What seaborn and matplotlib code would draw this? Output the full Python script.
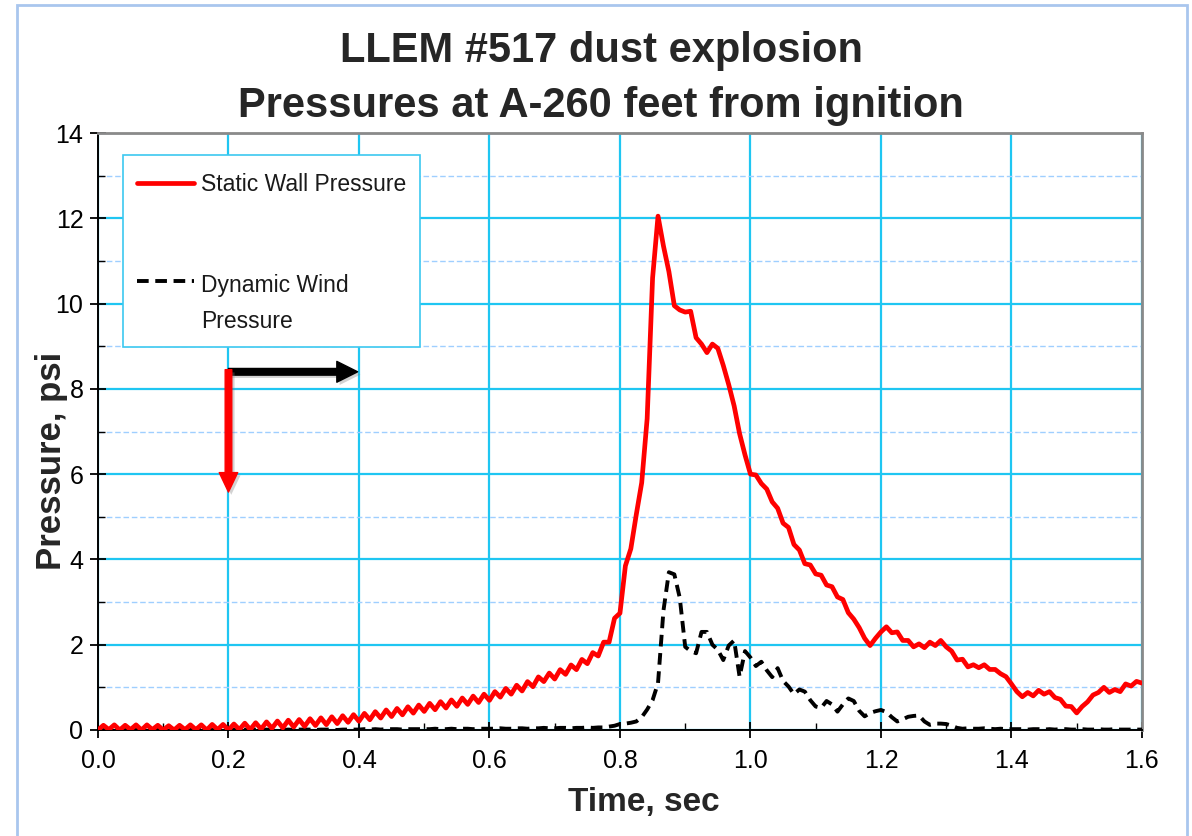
import numpy as np
import pandas as pd
import matplotlib
matplotlib.use("Agg")
import matplotlib.pyplot as plt
import matplotlib.patheffects as pe
import seaborn as sns
from matplotlib import font_manager
from matplotlib.patches import FancyArrowPatch, Rectangle
from matplotlib.legend_handler import HandlerLine2D
from matplotlib.ticker import MultipleLocator, FormatStrFormatter

# Gauge record, sampled 120 times per second from 0.0 s to 1.6 s
SAMPLES_PER_SEC = 120

static_psi = [
    0.00, 0.11, 0.01, 0.12, 0.00, 0.11, 0.01, 0.12, 0.00, 0.12, 0.01, 0.11,
    0.00, 0.10, 0.00, 0.11, 0.01, 0.12, 0.01, 0.12, 0.00, 0.13, 0.01, 0.13,
    0.00, 0.14, 0.01, 0.16, 0.01, 0.17, 0.02, 0.19, 0.04, 0.21, 0.05, 0.23,
    0.07, 0.245, 0.085, 0.265, 0.105, 0.285, 0.125, 0.31, 0.15, 0.335, 0.18, 0.36,
    0.205, 0.39, 0.24, 0.43, 0.28, 0.47, 0.315, 0.505, 0.355, 0.545, 0.395, 0.585,
    0.435, 0.625, 0.475, 0.665, 0.515, 0.705, 0.555, 0.75, 0.60, 0.795, 0.645, 0.84,
    0.695, 0.90, 0.77, 0.975, 0.84, 1.05, 0.915, 1.135, 1.015, 1.245, 1.135, 1.335,
    1.195, 1.415, 1.305, 1.525, 1.415, 1.655, 1.555, 1.815, 1.735, 2.06, 2.06, 2.62,
    2.74, 3.85, 4.25, 5.05, 5.80, 7.30, 10.60, 12.05, 11.35, 10.75, 9.95, 9.85,
    9.80, 9.82, 9.20, 9.05, 8.85, 9.05, 8.95, 8.55, 8.10, 7.60, 6.95, 6.45,
    6.00, 5.98, 5.78, 5.65, 5.35, 5.20, 4.85, 4.75, 4.35, 4.22, 3.90, 3.87,
    3.66, 3.63, 3.40, 3.36, 3.12, 3.06, 2.75, 2.60, 2.40, 2.15, 1.98, 2.15,
    2.30, 2.42, 2.28, 2.30, 2.10, 2.10, 1.95, 2.02, 1.93, 2.06, 1.98, 2.10,
    1.95, 1.85, 1.64, 1.66, 1.48, 1.53, 1.46, 1.53, 1.42, 1.42, 1.32, 1.25,
    1.08, 0.90, 0.78, 0.88, 0.80, 0.93, 0.84, 0.90, 0.76, 0.72, 0.56, 0.55,
    0.40, 0.55, 0.66, 0.82, 0.88, 1.00, 0.88, 0.95, 0.90, 1.08, 1.03, 1.14,
    1.10,
]

dynamic_psi = [
    0.00, 0.00, 0.00, 0.00, 0.00, 0.00, 0.00, 0.00, 0.00, 0.00, 0.00, 0.00,
    0.00, 0.00, 0.00, 0.00, 0.00, 0.00, 0.00, 0.00, 0.00, 0.00, 0.00, 0.00,
    0.00, 0.01, 0.00, 0.01, 0.00, 0.01, 0.00, 0.01, 0.00, 0.01, 0.00, 0.01,
    0.00, 0.01, 0.01, 0.01, 0.00, 0.01, 0.01, 0.01, 0.00, 0.01, 0.01, 0.01,
    0.01, 0.02, 0.01, 0.02, 0.01, 0.02, 0.02, 0.02, 0.01, 0.02, 0.02, 0.02,
    0.02, 0.02, 0.03, 0.02, 0.02, 0.03, 0.02, 0.03, 0.03, 0.02, 0.03, 0.03,
    0.03, 0.03, 0.04, 0.03, 0.03, 0.04, 0.04, 0.03, 0.04, 0.04, 0.05, 0.04,
    0.04, 0.05, 0.05, 0.04, 0.05, 0.05, 0.06, 0.05, 0.06, 0.06, 0.08, 0.10,
    0.14, 0.15, 0.17, 0.20, 0.30, 0.48, 0.70, 1.10, 2.80, 3.70, 3.65, 3.10,
    1.95, 1.85, 1.80, 2.30, 2.30, 2.00, 1.88, 1.64, 1.98, 2.10, 1.25, 1.85,
    1.70, 1.50, 1.60, 1.40, 1.24, 1.45, 1.15, 1.02, 0.84, 0.95, 0.90, 0.70,
    0.55, 0.52, 0.68, 0.60, 0.43, 0.60, 0.74, 0.68, 0.45, 0.32, 0.40, 0.44,
    0.47, 0.42, 0.30, 0.20, 0.25, 0.31, 0.33, 0.34, 0.20, 0.12, 0.15, 0.15,
    0.14, 0.10, 0.05, 0.03, 0.04, 0.03, 0.03, 0.04, 0.03, 0.02, 0.03, 0.02,
    0.02, 0.02, 0.02, 0.01, 0.02, 0.02, 0.01, 0.02, 0.01, 0.02, 0.02, 0.01,
    0.01, 0.02, 0.01, 0.01, 0.02, 0.01, 0.01, 0.02, 0.01, 0.01, 0.01, 0.01,
    0.01,
]

series_labels = ["Static Wall Pressure", "Dynamic Wind\nPressure"]
title_lines = ["LLEM #517 dust explosion", "Pressures at A-260 feet from ignition"]
x_label = "Time, sec"
y_label = "Pressure, psi"
x_ticks = [0.0, 0.2, 0.4, 0.6, 0.8, 1.0, 1.2, 1.4, 1.6]
y_ticks = [0, 2, 4, 6, 8, 10, 12, 14]

time_s = np.arange(len(static_psi)) / SAMPLES_PER_SEC
df = pd.DataFrame({"time": time_s, "static": static_psi, "dynamic": dynamic_psi})

sns.set_theme(style="white")
plt.rcParams["font.family"] = ["Liberation Sans", "DejaVu Sans"]
installed = {f.name for f in font_manager.fontManager.ttflist}
NARROW = "Liberation Sans Narrow" if "Liberation Sans Narrow" in installed else "Liberation Sans"
LEGEND_SIZE = 20 if NARROW == "Liberation Sans Narrow" else 16.5

fig = plt.figure(figsize=(11.92, 8.36), dpi=100)
fig.patch.set_facecolor("white")
ax = fig.add_axes([0.0822, 0.1268, 0.8758, 0.7141])
ax.set_facecolor("white")

# outer chart-area border
fig.patches.append(Rectangle((0.0143, -0.02), 0.9815, 1.014, transform=fig.transFigure,
                             fill=False, edgecolor="#a9c6ee", linewidth=2.0, zorder=0))

sns.lineplot(data=df, x="time", y="dynamic", ax=ax, color="black", linewidth=2.8,
             linestyle=(0, (3.0, 1.7)), label=series_labels[1], zorder=3)
sns.lineplot(data=df, x="time", y="static", ax=ax, color="#ff0000", linewidth=3.4,
             label=series_labels[0], zorder=4, solid_joinstyle="round")

ax.set_xlim(0, 1.6)
ax.set_ylim(0, 14)
ax.set_xticks(x_ticks)
ax.set_yticks(y_ticks)
ax.xaxis.set_major_formatter(FormatStrFormatter("%.1f"))
ax.xaxis.set_minor_locator(MultipleLocator(0.1))
ax.yaxis.set_minor_locator(MultipleLocator(1))

ax.grid(which="major", axis="both", color="#1fc6f2", linewidth=1.6)
ax.yaxis.grid(which="minor", color="#9fcfff", linewidth=1.0, linestyle=(0, (4, 2)))
ax.set_axisbelow(True)

ax.tick_params(axis="both", which="major", direction="inout", length=11, width=1.3,
               color="black", labelsize=18, labelcolor="black")
ax.tick_params(axis="x", which="major", pad=8)
ax.tick_params(axis="y", which="major", pad=5)
ax.tick_params(axis="both", which="minor", direction="in", length=5, width=1.0, color="black")
ax.tick_params(bottom=True, left=True, top=False, right=False, which="both")

for side in ("left", "bottom"):
    ax.spines[side].set_color("black")
    ax.spines[side].set_linewidth(1.4)
for side in ("top", "right"):
    ax.spines[side].set_color("#8a8a8a")
    ax.spines[side].set_linewidth(2.0)

ax.set_xlabel("")
ax.set_ylabel("")
fig.text(644 / 1192, 1 - 803 / 836, x_label, ha="center", va="center",
         fontsize=24, fontweight="bold")
fig.text(52 / 1192, 1 - 461 / 836, y_label, ha="center", va="center",
         rotation=90, fontsize=25, fontweight="bold")

fig.text(601 / 1192, 1 - 51 / 836, title_lines[0], ha="center", va="center",
         fontsize=30, fontweight="bold")
fig.text(601 / 1192, 1 - 106 / 836, title_lines[1], ha="center", va="center",
         fontsize=30, fontweight="bold")


class HandlerShifted(HandlerLine2D):
    """Legend line raised (or lowered) by a fixed number of points."""

    def __init__(self, lift=0.0, **kw):
        super().__init__(**kw)
        self.lift = lift

    def create_artists(self, legend, orig_handle, xdescent, ydescent,
                       width, height, fontsize, trans):
        return super().create_artists(legend, orig_handle, xdescent,
                                      ydescent - 2 * self.lift, width, height,
                                      fontsize, trans)


handles, labels = ax.get_legend_handles_labels()
order = [labels.index(series_labels[0]), labels.index(series_labels[1])]
handles = [handles[i] for i in order]
labels = [labels[i] for i in order]
leg = ax.legend(handles, labels, loc="upper left", bbox_to_anchor=(0.024, 0.963),
                borderaxespad=0, frameon=True, fancybox=False, framealpha=1,
                edgecolor="#3cc8f0", prop={"family": NARROW, "size": LEGEND_SIZE},
                handlelength=2.5, handletextpad=0.3, borderpad=0.6,
                handleheight=1.6, labelspacing=3.3,
                handler_map={handles[0]: HandlerShifted(lift=-2.0),
                             handles[1]: HandlerShifted(lift=14.5)})
leg.get_frame().set_linewidth(1.2)
for t in leg.get_texts():
    t.set_color("#1a1a1a")
    t.set_linespacing(1.75)

# direction markers
shadow = [pe.SimplePatchShadow(offset=(2, -2), alpha=0.35, shadow_rgbFace="gray"), pe.Normal()]
black_arrow = FancyArrowPatch((0.2, 8.4), (0.398, 8.4), transform=ax.transData,
                              arrowstyle="simple,head_length=1.0,head_width=1.0,tail_width=0.32",
                              mutation_scale=15, color="black", shrinkA=0, shrinkB=0,
                              zorder=6, clip_on=False)
black_arrow.set_path_effects(shadow)
red_arrow = FancyArrowPatch((0.2, 8.45), (0.2, 5.58), transform=ax.transData,
                            arrowstyle="simple,head_length=1.0,head_width=0.95,tail_width=0.34",
                            mutation_scale=14, color="#ff0000", shrinkA=0, shrinkB=0,
                            zorder=6, clip_on=False)
red_arrow.set_path_effects(shadow)
ax.add_patch(black_arrow)
ax.add_patch(red_arrow)

fig.savefig("out.png", dpi=100, facecolor="white")
